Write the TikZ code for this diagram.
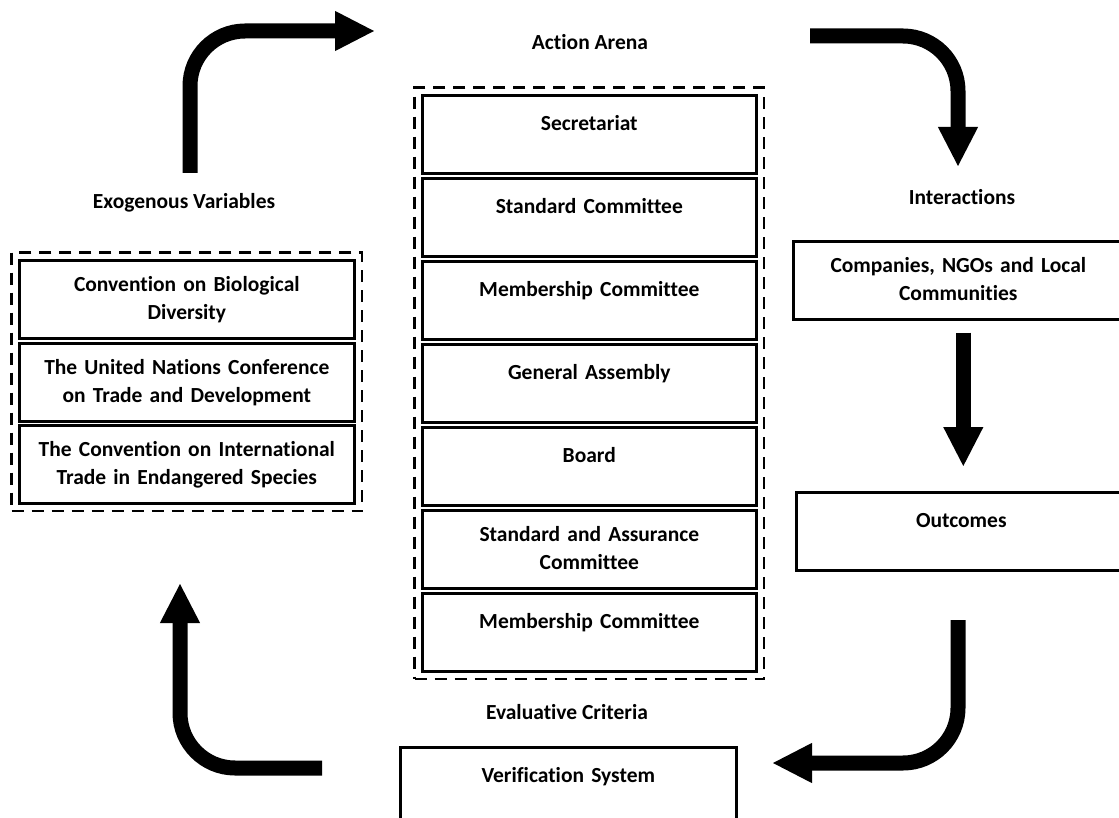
\documentclass[tikz,border=0pt]{standalone}
\usepackage{fontspec}
\setmainfont{Carlito}[Ligatures={NoCommon}]
\usetikzlibrary{positioning, arrows.meta, fit}

\begin{document}
\begin{tikzpicture}[x=1pt, y=-1pt,
  box/.style={draw, line width=2.6pt, anchor=north west, text width=326pt, align=center,
              inner xsep=2pt, inner ysep=0pt, text height=35pt, text depth=43pt,
              font=\fontsize{21.5}{28}\selectfont\bfseries},
  twoline/.style={text height=31pt, text depth=47pt},
  group/.style={draw, dash pattern=on 12pt off 8pt, line width=2.6pt, inner sep=6.5pt},
  heading/.style={font=\fontsize{21.5}{24}\selectfont\bfseries},
  fatarrow/.style={line width=15pt, -{Triangle[length=40pt, width=37pt]}, rounded corners=55pt}
]
  \useasboundingbox (0,0) rectangle (1119,818);

  % exogenous variables
  \node[heading] (exo) at (184,203) {Exogenous Variables};
  \node[box, twoline, minimum width=335pt] (e1) at (18,259) {Convention on Biological\\Diversity};
  \node[box, twoline, minimum width=335pt] (e2) at (18,342) {The United Nations Conference\\on Trade and Development};
  \node[box, twoline, minimum width=335pt] (e3) at (18,424) {The Convention on International\\Trade in Endangered Species};
  \node[group, fit=(e1)(e3)] (exogroup) {};

  % action arena
  \node[heading] (arena) at (590,42) {Action Arena};
  \foreach \i/\txt in {1/Secretariat, 2/Standard Committee, 3/Membership Committee,
                       4/General Assembly, 5/Board, 7/Membership Committee}
    \node[box, minimum width=334pt] (c\i) at (421,{94+83*(\i-1)}) {\txt};
  \node[box, twoline, minimum width=334pt] (c6) at (421,509) {Standard and Assurance\\Committee};
  \node[group, fit=(c1)(c7)] (arenagroup) {};

  % interactions and outcomes
  \node[heading] (inter) at (962,197) {Interactions};
  \node[box, twoline, minimum width=324pt] (comp) at (792,240) {Companies, NGOs and Local\\Communities};
  \node[box, minimum width=321pt] (outc) at (795,491) {Outcomes};

  % evaluative criteria
  \node[heading] (eval) at (567,712) {Evaluative Criteria};
  \node[box, minimum width=336pt] (verif) at (399,746) {Verification System};

  % cycle arrows
  \coordinate (tlstart) at (190,173);
  \coordinate (tlend) at (375,31);
  \coordinate (trstart) at (810,36);
  \coordinate (trend) at (958,167);
  \coordinate (brstart) at (958,620);
  \coordinate (brend) at (772,763);
  \coordinate (blstart) at (322,768);
  \coordinate (blend) at (180,583);
  \draw[fatarrow] (tlstart) |- (tlend);
  \draw[fatarrow] (trstart) -| (trend);
  \draw[fatarrow, shorten <=12pt, shorten >=24pt] ([xshift=5pt]comp.south) -- ([xshift=5pt]comp.south |- outc.north);
  \draw[fatarrow] (brstart) |- (brend);
  \draw[fatarrow] (blstart) -| (blend);
\end{tikzpicture}
\end{document}
